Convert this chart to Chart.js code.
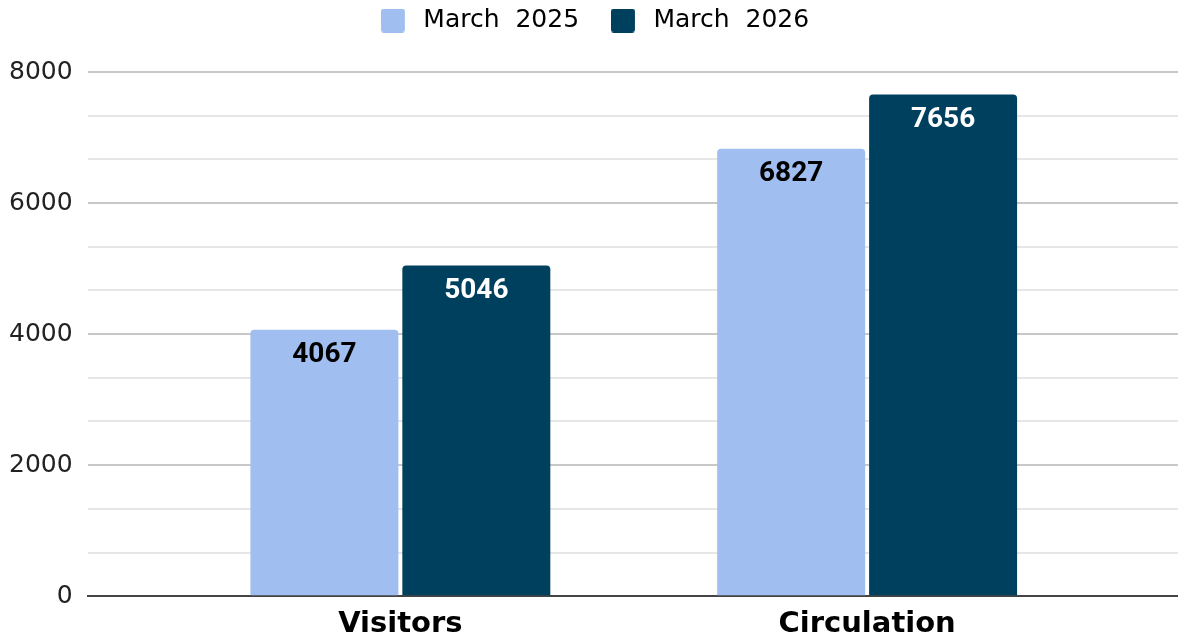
<!DOCTYPE html>
<html>
<head>
<meta charset="utf-8">
<script src="https://cdn.jsdelivr.net/npm/chart.js@4.4.1/dist/chart.umd.min.js"></script>
<style>
  html, body { margin: 0; padding: 0; background: #fff; }
  #wrap { width: 1178px; height: 641px; }
</style>
</head>
<body>
<div id="wrap"><canvas id="chart" width="1178" height="641"></canvas></div>
<script>
// chart values
const categories = ['Visitors', 'Circulation'];
const seriesNames = ['March  2025', 'March  2026'];
const march2025 = [4067, 6827];
const march2026 = [5046, 7656];
const seriesColors = ['#a1bef0', '#00405f'];
const labelColors = ['#000000', '#ffffff'];
const yTickLabels = [0, 2000, 4000, 6000, 8000];

const toPoints = vals => vals.map((v, i) => ({ x: i, y: v }));
const isMajor = v => {
  const r = Math.round(v);
  return yTickLabels.includes(r) && Math.abs(v - r) < 1;
};

// rounded legend swatch with some blank room on its right
const swatch = color => {
  const c = document.createElement('canvas');
  c.width = 30;
  c.height = 24;
  const g = c.getContext('2d');
  g.fillStyle = color;
  g.beginPath();
  g.roundRect(0, 0, 24, 24, 3);
  g.fill();
  return c;
};

// draws the value inside the top of each bar
const valueLabels = {
  id: 'valueLabels',
  afterDatasetsDraw(chart) {
    const ctx = chart.ctx;
    ctx.save();
    ctx.font = 'bold 28px Roboto';
    ctx.textAlign = 'center';
    ctx.textBaseline = 'middle';
    chart.data.datasets.forEach((ds, di) => {
      chart.getDatasetMeta(di).data.forEach((bar, i) => {
        ctx.fillStyle = labelColors[di];
        ctx.fillText(String(ds.data[i].y), bar.x, bar.y + 25);
      });
    });
    ctx.restore();
  }
};

// extra room under the legend row
const legendSpacing = {
  id: 'legendSpacing',
  beforeLayout(chart) {
    const lg = chart.legend;
    if (!lg || lg._patched) return;
    lg._patched = true;
    const fit = lg.fit;
    lg.fit = function () {
      fit.call(this);
      this.height += 29;
    };
  }
};

const barStyle = {
  borderRadius: { topLeft: 4, topRight: 4 },
  borderSkipped: 'bottom',
  categoryPercentage: 0.651,
  barPercentage: 0.974
};

new Chart(document.getElementById('chart'), {
  type: 'bar',
  data: {
    datasets: [
      { label: seriesNames[0], data: toPoints(march2025), backgroundColor: seriesColors[0], ...barStyle },
      { label: seriesNames[1], data: toPoints(march2026), backgroundColor: seriesColors[1], ...barStyle }
    ]
  },
  options: {
    responsive: false,
    animation: false,
    layout: { padding: { left: -6, right: -18, top: 0, bottom: -12 } },
    plugins: {
      tooltip: { enabled: false },
      legend: {
        position: 'top',
        padding: 0,
        labels: {
          font: { family: 'DejaVu Sans', size: 25 },
          color: '#222',
          usePointStyle: true,
          pointStyleWidth: 30,
          boxHeight: 24,
          padding: 8,
          generateLabels: chart => chart.data.datasets.map((ds, i) => ({
            text: i === 0 ? ds.label + '   ' : ds.label,
            fillStyle: ds.backgroundColor,
            strokeStyle: ds.backgroundColor,
            lineWidth: 0,
            pointStyle: swatch(ds.backgroundColor),
            hidden: false,
            datasetIndex: i
          }))
        }
      }
    },
    scales: {
      x: {
        type: 'linear',
        min: -0.67,
        max: 1.666,
        offset: false,
        afterBuildTicks: axis => { axis.ticks = categories.map((c, i) => ({ value: i })); },
        ticks: {
          callback: v => categories[v],
          font: { family: 'DejaVu Sans', size: 29, weight: 'bold' },
          color: '#000',
          padding: 11,
          autoSkip: false,
          maxRotation: 0
        },
        grid: { display: false, drawTicks: false },
        border: { color: '#444', width: 2 }
      },
      y: {
        min: 0,
        max: 8000,
        afterBuildTicks: axis => {
          const t = [];
          for (let k = 0; k <= 12; k++) t.push({ value: k * 2000 / 3 });
          axis.ticks = t;
        },
        ticks: {
          autoSkip: false,
          callback: v => isMajor(v) ? String(Math.round(v)) : '',
          font: { family: 'DejaVu Sans', size: 25 },
          color: '#222',
          padding: 15
        },
        grid: {
          color: ctx => isMajor(ctx.tick.value) ? '#c8c8c8' : '#e6e6e6',
          lineWidth: 2,
          drawTicks: false
        },
        border: { display: false }
      }
    }
  },
  plugins: [valueLabels, legendSpacing]
});
</script>
</body>
</html>
